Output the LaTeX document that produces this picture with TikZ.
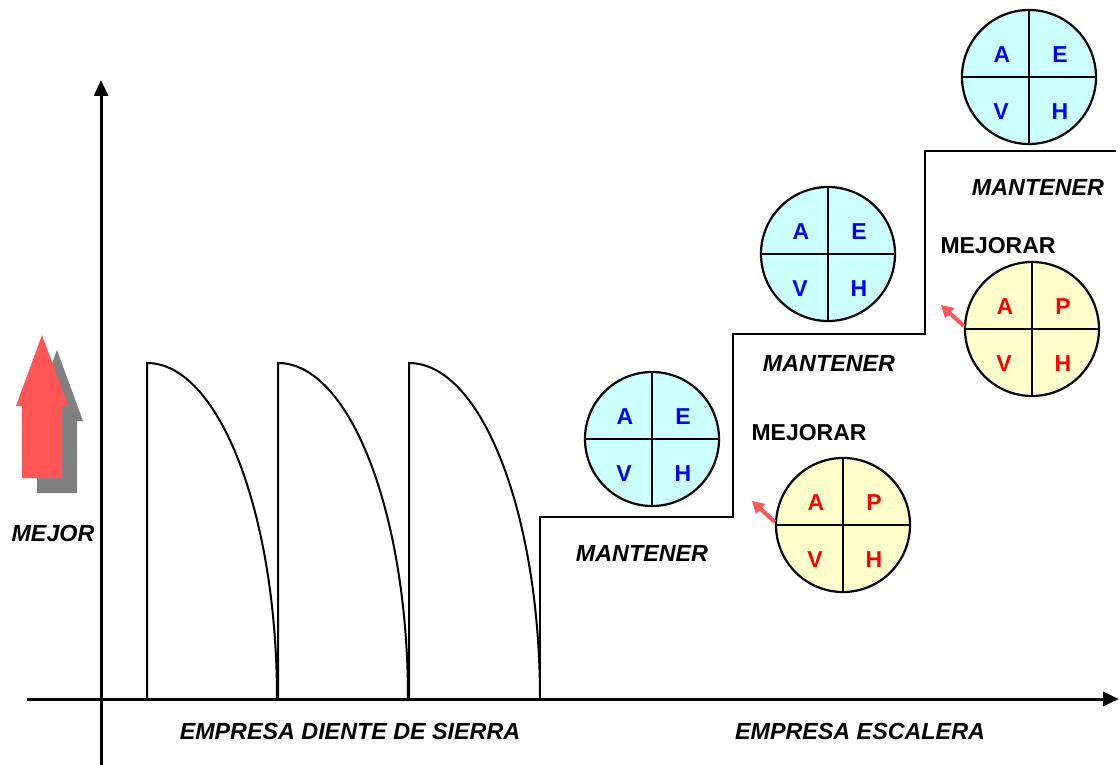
\documentclass[tikz,border=0pt]{standalone}
\usepackage{fontspec}
\setmainfont{Liberation Sans}
\usetikzlibrary{arrows.meta}

\definecolor{cielo}{HTML}{CCFFFF}
\definecolor{crema}{HTML}{FFFFCC}
\definecolor{rojoflecha}{HTML}{FF5555}
\definecolor{grisflecha}{HTML}{808080}
\definecolor{azulletra}{HTML}{0000FF}
\definecolor{rojoletra}{HTML}{FF0000}

\tikzset{
  eje/.style={line width=3pt,-{Triangle[length=16pt,width=14pt]}},
  linea/.style={line width=2pt,line join=miter},
  rueda/.style={circle,draw,line width=2.2pt,minimum size=134pt,inner sep=0pt},
  mant/.style={rueda,fill=cielo},
  mejo/.style={rueda,fill=crema},
  letra/.style={font=\bfseries\fontsize{23}{27}\selectfont},
  rotulo/.style={font=\bfseries\itshape\fontsize{23.3}{27}\selectfont},
  titulo/.style={font=\bfseries\fontsize{23}{27}\selectfont},
  empuje/.style={rojoflecha,line width=4pt,-{Triangle[length=12pt,width=13pt]}},
}

% ciclo: name, position, style, letter colour, upper right letter
\newcommand{\ciclo}[5]{%
  \node[#3] (#1) at #2 {};
  \draw[line width=2pt] (#1.north) -- (#1.south);
  \draw[line width=2pt] (#1.west) -- (#1.east);
  \node[letra,text=#4] at ([xshift=-27pt,yshift=22pt]#1.center) {A};
  \node[letra,text=#4] at ([xshift=31pt,yshift=22pt]#1.center) {#5};
  \node[letra,text=#4] at ([xshift=-28pt,yshift=-35pt]#1.center) {V};
  \node[letra,text=#4] at ([xshift=31pt,yshift=-35pt]#1.center) {H};
}

\begin{document}
\begin{tikzpicture}[x=1pt,y=-1pt]
\useasboundingbox (0,0) rectangle (1120,765);

% axes
\coordinate (o1) at (101,765);
\coordinate (o2) at (101,80);
\coordinate (x1) at (27,699);
\coordinate (x2) at (1119,699);
\draw[eje] (o1) -- (o2);
\draw[eje] (x1) -- (x2);

% big arrow
\fill[grisflecha] (57,350) -- (83,421) -- (77,421) -- (77,493) -- (37,493) -- (37,421) -- (31,421) -- cycle;
\fill[rojoflecha] (42,335) -- (68,406) -- (62,406) -- (62,478) -- (22,478) -- (22,406) -- (16,406) -- cycle;
\node[rotulo] (mejor) at (53,533) {MEJOR};

% saw teeth
\foreach \l/\r in {147/277,278/408,409/540}
  \draw[linea] (\l,699) -- (\l,363) arc[start angle=-90,end angle=0,x radius=\r-\l,y radius=336];

% stair
\draw[linea] (540,699) -- (540,517) -- (733,517) -- (733,334) -- (925,334) -- (925,151) -- (1116,151);

% circles
\ciclo{m1}{(652,439)}{mant}{azulletra}{E}
\ciclo{m2}{(828,254)}{mant}{azulletra}{E}
\ciclo{m3}{(1029,77)}{mant}{azulletra}{E}
\ciclo{p1}{(843,525)}{mejo}{rojoletra}{P}
\ciclo{p2}{(1032,329)}{mejo}{rojoletra}{P}

\draw[empuje] ([yshift=3pt]p1.west) -- ++(-23,-21);
\draw[empuje] ([yshift=3pt]p2.west) -- ++(-23,-21);

% labels
\node[rotulo] (t1) at (642,553) {MANTENER};
\node[rotulo] (t2) at (829,363) {MANTENER};
\node[rotulo] (t3) at (1038,187) {MANTENER};
\node[titulo] (u1) at (809,433) {MEJORAR};
\node[titulo] (u2) at (998,246) {MEJORAR};
\node[rotulo] (e1) at (350,731) {EMPRESA DIENTE DE SIERRA};
\node[rotulo] (e2) at (860,731) {EMPRESA ESCALERA};
\end{tikzpicture}
\end{document}
